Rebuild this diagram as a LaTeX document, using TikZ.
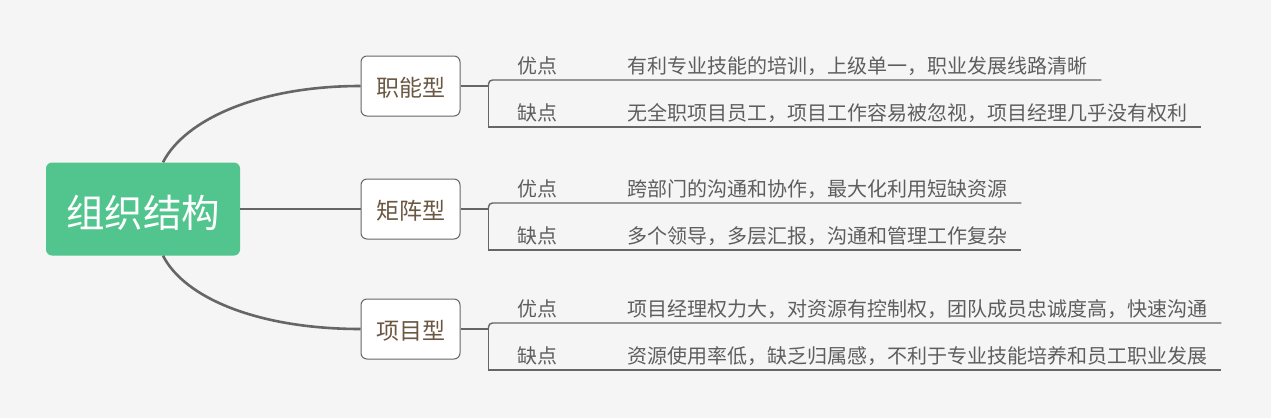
\documentclass[tikz,border=0pt]{standalone}
\usepackage{fontspec}
\usepackage{tikz}
\usetikzlibrary{calc}
\setmainfont{Noto Sans CJK SC}
\definecolor{Paper} {HTML}{F5F5F5}
\definecolor{Mint}  {HTML}{52C48E}
\definecolor{Slate} {HTML}{666666}
\definecolor{Umber} {HTML}{6B5843}
\definecolor{Ash}   {HTML}{5E5E5E}

\tikzset{
  rootbox/.style={fill=Mint, rounded corners=6pt, minimum width=194pt, minimum height=93pt,
    text=white, font=\fontsize{38.5}{40}\selectfont, text height=36.5pt, text depth=0pt},
  typebox/.style={draw=Slate, fill=white, line width=1pt, rounded corners=6pt,
    minimum width=99pt, minimum height=60pt, text=Umber,
    font=\fontsize{23}{25}\selectfont, text height=21.8pt, text depth=0pt},
  tag/.style={anchor=base, inner sep=0pt, text=Ash, font=\fontsize{20}{22}\selectfont},
  desc/.style={anchor=base west, inner sep=0pt, text=Ash, font=\fontsize{20}{22}\selectfont},
  trunk/.style={draw=Slate, line width=2.6pt},
  twig/.style={draw=Slate, line width=1.4pt},
}

\begin{document}
\begin{tikzpicture}[x=1pt, y=-1pt]
  \fill[Paper] (0,0) rectangle (1271,418);
  \useasboundingbox (0,0) rectangle (1271,418);

  \node[rootbox] (root)    at (143,209)   {组织结构};
  \node[typebox] (zhineng) at (410.5,86)  {职能型};
  \node[typebox] (juzhen)  at (410.5,209) {矩阵型};
  \node[typebox] (xiangmu) at (410.5,329) {项目型};

  % root to the three kinds
  \draw[trunk] ([xshift=20pt]root.north) .. controls +(22,-43) and +(-101,0) .. (zhineng.west);
  \draw[trunk] (root.east) -- (juzhen.west);
  \draw[trunk] ([xshift=20pt]root.south) .. controls +(22,43) and +(-101,0) .. (xiangmu.west);

  % pros and cons of each kind
  \foreach \kind/\c/\pro/\con in {
      zhineng/86/{有利专业技能的培训，上级单一，职业发展线路清晰}/{无全职项目员工，项目工作容易被忽视，项目经理几乎没有权利},
      juzhen/209/{跨部门的沟通和协作，最大化利用短缺资源}/{多个领导，多层汇报，沟通和管理工作复杂},
      xiangmu/329/{项目经理权力大，对资源有控制权，团队成员忠诚度高，快速沟通}/{资源使用率低，缺乏归属感，不利于专业技能培养和员工职业发展}} {
    \coordinate (\kind-fork) at ($(\kind.east)+(28,0)$);
    \node[tag]  (\kind-pro)   at (537,\c-13) {优点};
    \node[desc] (\kind-pro-t) at (627,\c-13) {\pro};
    \node[tag]  (\kind-con)   at (537,\c+34) {缺点};
    \node[desc] (\kind-con-t) at (627,\c+34) {\con};
    \draw[twig] (\kind.east) -- (\kind-fork);
    \draw[twig, rounded corners=4pt] (\kind-fork) |- ($(\kind-pro-t.base east)+(14,7)$);
    \draw[twig] (\kind-fork) |- ($(\kind-con-t.base east)+(14,7)$);
  }
\end{tikzpicture}
\end{document}
